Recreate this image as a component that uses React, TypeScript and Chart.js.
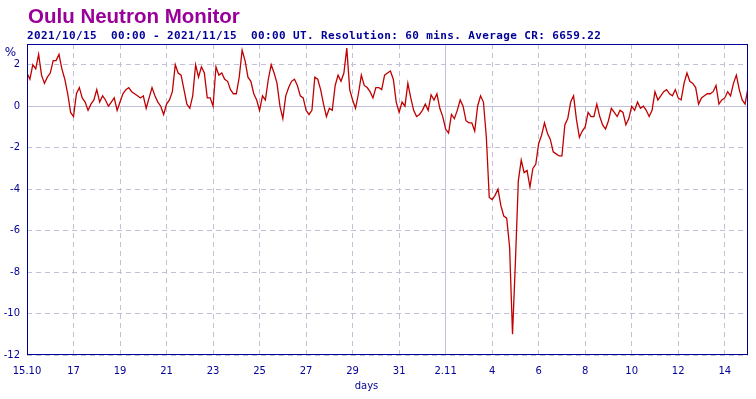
import { useEffect, useRef } from 'react';
import { Chart, registerables } from 'chart.js';

Chart.register(...registerables);

const TITLE = 'Oulu Neutron Monitor';
const SUBTITLE = '2021/10/15  00:00 - 2021/11/15  00:00 UT. Resolution: 60 mins. Average CR: 6659.22';
const Y_UNIT = '%';
const X_TITLE = 'days';

const X_TICK_DAYS = [0, 2, 4, 6, 8, 10, 12, 14, 16, 18, 20, 22, 24, 26, 28, 30];
const X_TICK_LABELS = ['15.10', '17', '19', '21', '23', '25', '27', '29', '31', '2.11', '4', '6', '8', '10', '12', '14'];
const Y_TICKS = [-12, -10, -8, -6, -4, -2, 0, 2];
const X_MIN = 0;
const X_MAX = 31;
const Y_MIN = -12;
const Y_MAX = 3;

// samples every 3 hours (0.125 day), starting 2021/10/15 00:00
const STEP_DAYS = 0.125;

const WEEK1 = [
  1.6, 1.3, 2.0, 1.8, 2.5, 1.5, 1.1, 1.4,
  1.6, 2.2, 2.2, 2.5, 1.8, 1.3, 0.6, -0.3,
  -0.5, 0.6, 0.9, 0.4, 0.2, -0.2, 0.1, 0.3,
  0.8, 0.2, 0.5, 0.3, 0.0, 0.2, 0.4, -0.2,
  0.2, 0.6, 0.8, 0.9, 0.7, 0.6, 0.5, 0.4,
  0.5, -0.1, 0.4, 0.9, 0.5, 0.2, 0.0, -0.4,
  0.1, 0.3, 0.7, 2.0, 1.6, 1.5, 0.8, 0.1,
];
const WEEK2 = [
  -0.1, 0.5, 2.0, 1.4, 1.9, 1.6, 0.4, 0.4,
  0.0, 1.9, 1.5, 1.6, 1.3, 1.2, 0.8, 0.6,
  0.6, 1.4, 2.7, 2.2, 1.4, 1.2, 0.6, 0.3,
  -0.2, 0.5, 0.3, 1.3, 2.0, 1.6, 1.1, 0.0,
  -0.6, 0.5, 0.9, 1.2, 1.3, 1.0, 0.5, 0.4,
  -0.2, -0.4, -0.2, 1.4, 1.3, 0.8, 0.1, -0.5,
  -0.1, -0.2, 1.0, 1.5, 1.2, 1.6, 2.8, 0.8,
];
const WEEK3 = [
  0.3, -0.1, 0.6, 1.5, 1.0, 0.9, 0.7, 0.4,
  0.9, 0.9, 0.8, 1.5, 1.6, 1.7, 1.3, 0.2,
  -0.3, 0.2, 0.0, 1.1, 0.4, -0.2, -0.5, -0.4,
  -0.2, 0.1, -0.2, 0.55, 0.3, 0.6, -0.1, -0.5,
  -1.1, -1.3, -0.4, -0.6, -0.2, 0.3, 0.0, -0.7,
  -0.8, -0.8, -1.2, 0.0, 0.5, 0.2, -1.5, -4.4,
  -4.5, -4.3, -4.0, -4.8, -5.3, -5.4, -6.8, -11.0,
];
const WEEK4 = [
  -7.5, -3.6, -2.6, -3.2, -3.1, -3.9, -3.0, -2.8,
  -1.8, -1.4, -0.8, -1.3, -1.6, -2.2, -2.3, -2.4,
  -2.4, -0.9, -0.6, 0.2, 0.5, -0.65, -1.5, -1.2,
  -1.0, -0.3, -0.5, -0.5, 0.1, -0.5, -0.9, -1.1,
  -0.7, -0.1, -0.3, -0.5, -0.2, -0.3, -0.9, -0.6,
  0.0, -0.2, 0.2, -0.1, 0.0, -0.2, -0.5, -0.2,
  0.7, 0.3, 0.5, 0.7, 0.8, 0.6, 0.5, 0.8,
];
const WEEK5 = [
  0.4, 0.3, 1.1, 1.6, 1.2, 1.1, 0.9, 0.1,
  0.4, 0.5, 0.6, 0.6, 0.7, 1.0, 0.1, 0.3,
  0.4, 0.7, 0.5, 1.1, 1.5, 0.8, 0.3, 0.1,
  0.9,
];

const NAVY = '#000099';
const PURPLE = '#990099';
const GRID = '#c0c0d8';
const LINE = '#c00000';

export default function App() {
  const ref = useRef<HTMLCanvasElement | null>(null);

  useEffect(() => {
    document.body.style.margin = '0';
    const canvas = ref.current;
    if (!canvas) return;

    const values = [...WEEK1, ...WEEK2, ...WEEK3, ...WEEK4, ...WEEK5];
    const points = values.map((v, i) => ({ x: i * STEP_DAYS, y: v }));

    const labelFor = (v: number) => {
      const idx = X_TICK_DAYS.indexOf(v);
      return idx >= 0 ? X_TICK_LABELS[idx] : '';
    };

    const decor = {
      id: 'decor',
      afterDraw(chart: any) {
        const { ctx, chartArea } = chart;
        const { left, top, right, bottom } = chartArea;
        ctx.save();
        // frame
        ctx.strokeStyle = NAVY;
        ctx.lineWidth = 1;
        ctx.setLineDash([]);
        ctx.strokeRect(left + 0.5, top + 0.5, right - left - 1, bottom - top - 1);

        // title
        ctx.fillStyle = PURPLE;
        ctx.font = 'bold 20.5px "Liberation Sans", Arial, sans-serif';
        ctx.textAlign = 'left';
        ctx.textBaseline = 'alphabetic';
        ctx.fillText(TITLE, 28, 23);

        // subtitle
        ctx.fillStyle = NAVY;
        ctx.font = 'bold 11px "DejaVu Sans Mono", monospace';
        try { (ctx as any).letterSpacing = '0.38px'; } catch (e) { /* ignore */ }
        ctx.fillText(SUBTITLE, 27, 39);
        try { (ctx as any).letterSpacing = '0px'; } catch (e) { /* ignore */ }

        // unit
        ctx.font = '12px "DejaVu Sans", sans-serif';
        ctx.textAlign = 'center';
        ctx.textBaseline = 'middle';
        ctx.fillText(Y_UNIT, 10.5, 52.5);

        // x title
        ctx.font = '10px "DejaVu Sans", sans-serif';
        ctx.fillText(X_TITLE, 366.5, 386);
        ctx.restore();
      },
    };

    const chart = new Chart(canvas, {
      type: 'line',
      data: {
        datasets: [
          {
            data: points,
            borderColor: LINE,
            borderWidth: 1.3,
            pointRadius: 0,
            tension: 0,
            fill: false,
          },
        ],
      },
      options: {
        animation: false,
        responsive: false,
        maintainAspectRatio: false,
        layout: { padding: { top: 44, right: 8, left: 0, bottom: 0 } },
        plugins: {
          legend: { display: false },
          tooltip: { enabled: false },
          title: { display: false },
        },
        scales: {
          x: {
            type: 'linear',
            min: X_MIN,
            max: X_MAX,
            afterBuildTicks: (s: any) => {
              s.ticks = X_TICK_DAYS.map((v) => ({ value: v }));
            },
            afterFit: (s: any) => {
              s.height = 44;
            },
            ticks: {
              autoSkip: false,
              maxRotation: 0,
              padding: 10,
              color: NAVY,
              font: { family: '"DejaVu Sans", sans-serif', size: 10 },
              callback: (v: any) => labelFor(Number(v)),
            },
            grid: { color: GRID, lineWidth: 1, drawTicks: false },
            border: {
              display: false,
              dash: (c: any) => {
                if (!c.tick) return [];
                return labelFor(c.tick.value).includes('.') ? [] : [5, 4];
              },
            },
          },
          y: {
            type: 'linear',
            min: Y_MIN,
            max: Y_MAX,
            afterBuildTicks: (s: any) => {
              s.ticks = Y_TICKS.map((v) => ({ value: v }));
            },
            afterFit: (s: any) => {
              s.width = 27;
            },
            ticks: {
              padding: 7,
              color: NAVY,
              font: { family: '"DejaVu Sans", sans-serif', size: 10 },
              callback: (v: any) => String(v),
            },
            grid: { color: GRID, lineWidth: 1, drawTicks: false },
            border: {
              display: false,
              dash: (c: any) => {
                if (!c.tick) return [];
                return c.tick.value === 0 ? [] : [5, 4];
              },
            },
          },
        },
      },
      plugins: [decor],
    });

    return () => chart.destroy();
  }, []);

  return (
    <div style={{ width: 756, height: 399, background: '#ffffff' }}>
      <canvas ref={ref} width={756} height={399} style={{ display: 'block' }} />
    </div>
  );
}
